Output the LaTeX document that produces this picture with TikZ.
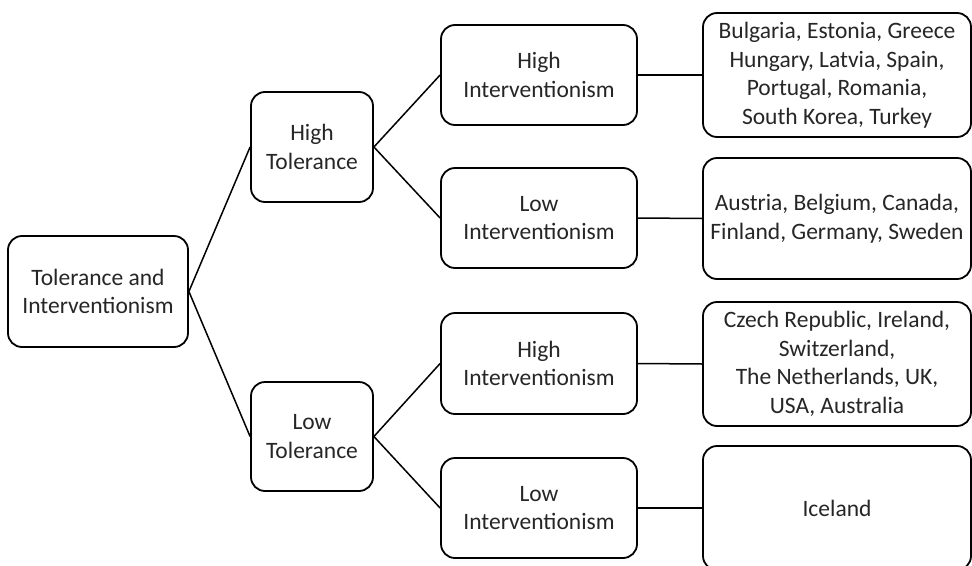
\documentclass[tikz,border=0pt]{standalone}
\usepackage{fontspec}
\setmainfont{Carlito}
\definecolor{txt}{HTML}{262626}
\begin{document}
\begin{tikzpicture}[x=1pt,y=-1pt,
  box/.style={draw=black,line width=1.8pt,rounded corners=14pt,inner sep=0pt,
    align=center,text=txt,font=\fontsize{23.5}{28.5}\selectfont},
  link/.style={draw=black,line width=1.5pt}]
\clip (0,0) rectangle (972,565);
\fill[white] (0,0) rectangle (972,565);
\node[box,minimum width=180pt,minimum height=111pt] (root) at (98,291.5) {Tolerance and\\Interventionism};
\node[box,minimum width=122pt,minimum height=110pt] (ht) at (312,147) {High\\Tolerance};
\node[box,minimum width=122pt,minimum height=109pt] (lt) at (312,436.5) {Low\\Tolerance};
\node[box,minimum width=196pt,minimum height=100pt] (hi1) at (539,75) {High\\Interventionism};
\node[box,minimum width=196pt,minimum height=100pt] (li1) at (539,218) {Low\\Interventionism};
\node[box,minimum width=196pt,minimum height=101pt] (hi2) at (539,363.5) {High\\Interventionism};
\node[box,minimum width=196pt,minimum height=100pt] (li2) at (539,508) {Low\\Interventionism};
\node[box,minimum width=268pt,minimum height=124pt] (c1) at (837,75) {Bulgaria, Estonia, Greece\\Hungary, Latvia, Spain,\\Portugal, Romania,\\South Korea, Turkey};
\node[box,minimum width=268pt,minimum height=121pt] (c2) at (837,218.5) {Austria, Belgium, Canada,\\Finland, Germany, Sweden};
\node[box,minimum width=268pt,minimum height=124pt] (c3) at (837,364) {Czech Republic, Ireland,\\Switzerland,\\The Netherlands, UK,\\USA, Australia};
\node[box,minimum width=268pt,minimum height=124pt] (c4) at (837,508) {Iceland};
\draw[link] (root.east) -- (ht.west);
\draw[link] (root.east) -- (lt.west);
\draw[link] (ht.east) -- (hi1.west);
\draw[link] (ht.east) -- (li1.west);
\draw[link] (lt.east) -- (hi2.west);
\draw[link] (lt.east) -- (li2.west);
\draw[link] (hi1.east) -- (c1.west);
\draw[link] (li1.east) -- (c2.west);
\draw[link] (hi2.east) -- (c3.west);
\draw[link] (li2.east) -- (c4.west);
\end{tikzpicture}
\end{document}
